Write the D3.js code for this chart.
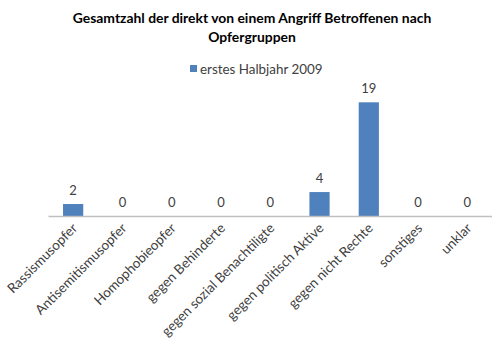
<!DOCTYPE html>
<html><head><meta charset="utf-8">
<script src="https://cdn.jsdelivr.net/npm/d3@7"></script>
<style>body{margin:0;background:#fff}svg{display:block}</style>
</head><body>
<script>
const categories = ["Rassismusopfer","Antisemitismusopfer","Homophobieopfer","gegen Behinderte","gegen sozial Benachtiligte","gegen politisch Aktive","gegen nicht Rechte","sonstiges","unklar"];
const values = [2,0,0,0,0,4,19,0,0];
const seriesName = "erstes Halbjahr 2009";
const titleLines = ["Gesamtzahl der direkt von einem Angriff Betroffenen nach","Opfergruppen"];

const W=500,H=355;
const font = "Lato, 'Open Sans', sans-serif";
const svg = d3.select("body").append("svg").attr("width",W).attr("height",H);
svg.append("rect").attr("width",W).attr("height",H).attr("fill","#fff");

const x = d3.scaleBand().domain(categories).range([48.5,492]).paddingInner(0.59).paddingOuter(0.295);
const y = d3.scaleLinear().domain([0,19]).range([216,102.3]);

svg.selectAll("text.title").data(titleLines).join("text")
  .attr("x",252).attr("y",(d,i)=>23+i*19).attr("text-anchor","middle")
  .attr("font-family",font).attr("font-weight","bold").attr("font-size",13.9).attr("fill","#000").text(d=>d);

// legend
const lg = svg.append("g");
lg.append("rect").attr("x",190).attr("y",65).attr("width",7).attr("height",7).attr("fill","#4f81bd");
lg.append("text").attr("x",200).attr("y",73.5).attr("font-family",font).attr("font-size",13.4).attr("fill","#404040").text(seriesName);

svg.selectAll("rect.bar").data(values).join("rect").attr("class","bar")
  .attr("x",(d,i)=>x(categories[i])).attr("width",x.bandwidth())
  .attr("y",d=>y(d)).attr("height",d=>y(0)-y(d)).attr("fill","#4f81bd");

svg.append("line").attr("x1",48.5).attr("x2",492).attr("y1",216.5).attr("y2",216.5).attr("stroke","#bfbfbf").attr("stroke-width",1.5);

svg.selectAll("text.val").data(values).join("text")
  .attr("x",(d,i)=>x(categories[i])+x.bandwidth()/2).attr("y",d=>y(d)-9)
  .attr("text-anchor","middle").attr("font-family",font).attr("font-size",13).attr("fill","#404040").text(d=>d);

svg.selectAll("text.cat").data(categories).join("text")
  .attr("transform",d=>`translate(${x(d)+x.bandwidth()/2+5},${229}) rotate(-45)`)
  .attr("text-anchor","end").attr("font-family",font).attr("font-size",13.5).attr("fill","#404040").text(d=>d);
</script>
</body></html>
